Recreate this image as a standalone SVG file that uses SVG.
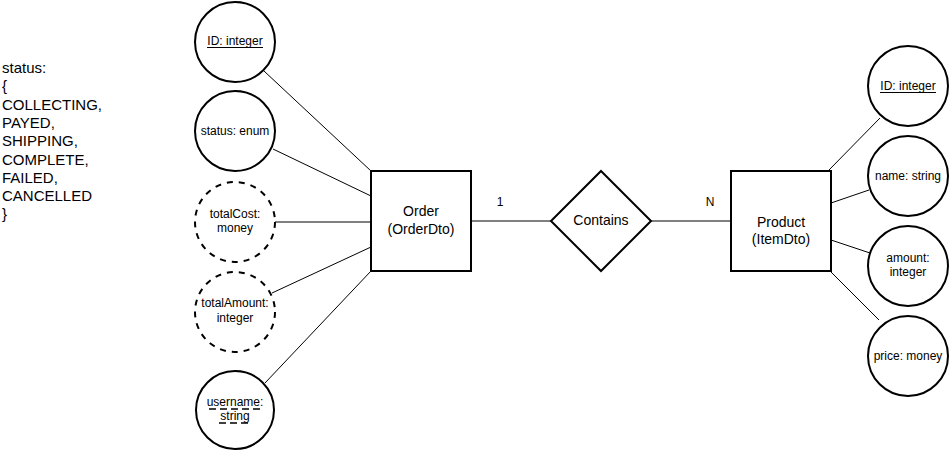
<svg xmlns="http://www.w3.org/2000/svg" width="950" height="450" viewBox="0 0 950 450">
<style>
  text { font-family: "Liberation Sans", Arial, sans-serif; fill: #000; }
  .attr { fill: #fff; stroke: #000; stroke-width: 2; }
  .derived { stroke-dasharray: 6 6; }
  .ent { fill: #fff; stroke: #000; stroke-width: 2; }
  .lbl { font-size: 12px; text-anchor: middle; }
  .big { font-size: 14px; text-anchor: middle; }
  .conn line { stroke: #000; stroke-width: 1; }
  .ul { stroke: #000; stroke-width: 1; }
  .dul { stroke: #000; stroke-width: 1.5; stroke-dasharray: 7 4; }
</style>
<rect width="950" height="450" fill="#fff"/>

<g id="connectors" class="conn">
  <line x1="264" y1="71" x2="371" y2="171"/>
  <line x1="273" y1="149" x2="371" y2="196"/>
  <line x1="275" y1="222" x2="371" y2="222"/>
  <line x1="272" y1="293" x2="371" y2="247"/>
  <line x1="265" y1="383" x2="371" y2="271"/>
  <line x1="471" y1="221" x2="551" y2="221"/>
  <line x1="651" y1="221" x2="731" y2="221"/>
  <line x1="829" y1="170" x2="880" y2="118"/>
  <line x1="831" y1="203" x2="869" y2="190"/>
  <line x1="831" y1="240" x2="870" y2="253"/>
  <line x1="831" y1="272" x2="879" y2="320"/>
</g>

<g id="status-note">
  <text x="2" font-size="15">
    <tspan x="2" y="73">status:</tspan>
    <tspan x="2" y="91.3">{</tspan>
    <tspan x="2" y="109.6">COLLECTING,</tspan>
    <tspan x="2" y="127.9">PAYED,</tspan>
    <tspan x="2" y="146.2">SHIPPING,</tspan>
    <tspan x="2" y="164.5">COMPLETE,</tspan>
    <tspan x="2" y="182.8">FAILED,</tspan>
    <tspan x="2" y="201.1">CANCELLED</tspan>
    <tspan x="2" y="219.4">}</tspan>
  </text>
</g>

<g id="order-id">
  <circle class="attr" cx="235" cy="42" r="40"/>
  <text class="lbl" x="235" y="45">ID: integer</text>
  <line class="ul" x1="207" y1="47.5" x2="263" y2="47.5"/>
</g>
<g id="order-status">
  <circle class="attr" cx="235" cy="131" r="40"/>
  <text class="lbl" x="235" y="135">status: enum</text>
</g>
<g id="order-totalCost">
  <circle class="attr derived" cx="235" cy="222" r="40"/>
  <text class="lbl" x="235" y="218">totalCost:</text>
  <text class="lbl" x="235" y="232">money</text>
</g>
<g id="order-totalAmount">
  <circle class="attr derived" cx="235" cy="312" r="40"/>
  <text class="lbl" x="235" y="307">totalAmount:</text>
  <text class="lbl" x="235" y="322">integer</text>
</g>
<g id="order-username">
  <circle class="attr" cx="235" cy="410" r="39"/>
  <text class="lbl" x="235" y="406">username:</text>
  <line class="dul" x1="209" y1="409" x2="263" y2="409"/>
  <text class="lbl" x="235" y="420">string</text>
  <line class="dul" x1="219" y1="423" x2="251" y2="423"/>
</g>

<g id="order">
  <rect class="ent" x="371" y="171" width="100" height="100"/>
  <text class="big" x="421" y="216">Order</text>
  <text class="big" x="421" y="234">(OrderDto)</text>
</g>

<g id="card-1">
  <text class="lbl" x="500" y="206">1</text>
</g>
<g id="card-n">
  <text class="lbl" x="710" y="206">N</text>
</g>

<g id="contains">
  <polygon class="ent" points="601,171 651,221 601,271 551,221"/>
  <text class="big" x="601" y="225">Contains</text>
</g>

<g id="product">
  <rect class="ent" x="731" y="171" width="100" height="100"/>
  <text class="big" x="781" y="227">Product</text>
  <text class="big" x="781" y="244">(ItemDto)</text>
</g>

<g id="product-id">
  <circle class="attr" cx="908" cy="86" r="40"/>
  <text class="lbl" x="908" y="90">ID: integer</text>
  <line class="ul" x1="880" y1="92.5" x2="936" y2="92.5"/>
</g>
<g id="product-name">
  <circle class="attr" cx="908" cy="176" r="40"/>
  <text class="lbl" x="908" y="180">name: string</text>
</g>
<g id="product-amount">
  <circle class="attr" cx="908" cy="266" r="40"/>
  <text class="lbl" x="908" y="262">amount:</text>
  <text class="lbl" x="908" y="276">integer</text>
</g>
<g id="product-price">
  <circle class="attr" cx="908" cy="356" r="40"/>
  <text class="lbl" x="908" y="360">price: money</text>
</g>
</svg>
